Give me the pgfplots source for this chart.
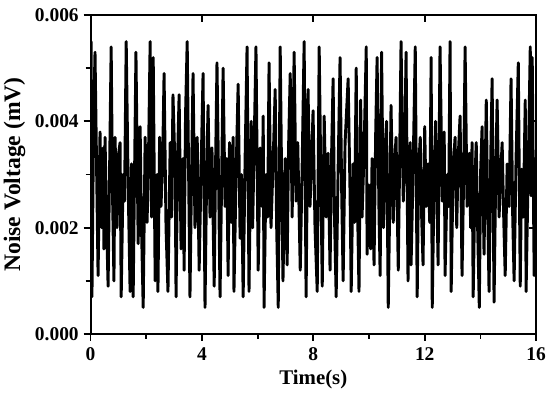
\documentclass[border=0pt]{standalone}
\usepackage{fontspec}
\setmainfont{Liberation Serif}
\usepackage{pgfplots}
\usepackage{pgfplotstable}
\pgfplotsset{compat=1.18}
\pgfplotstableread{
t v
0 0.0030
0.02 0.0055
0.05 0.0007
0.11 0.0040
0.16 0.0053
0.27 0.0011
0.34 0.0038
0.40 0.0020
0.45 0.0035
0.48 0.0016
0.52 0.0037
0.57 0.0022
0.63 0.0009
0.74 0.0054
0.79 0.0026
0.84 0.0010
0.88 0.0037
0.95 0.0020
1.01 0.0034
1.06 0.0036
1.10 0.0007
1.17 0.0030
1.22 0.0025
1.28 0.0055
1.35 0.0028
1.42 0.0008
1.47 0.0032
1.53 0.0007
1.63 0.0053
1.71 0.0017
1.78 0.0039
1.83 0.0020
1.89 0.0005
1.96 0.0037
2.03 0.0021
2.08 0.0033
2.14 0.0055
2.19 0.0022
2.25 0.0052
2.32 0.0010
2.39 0.0030
2.42 0.0008
2.48 0.0037
2.53 0.0024
2.59 0.0033
2.64 0.0049
2.71 0.0020
2.78 0.0008
2.86 0.0036
2.91 0.0022
2.96 0.0045
3.04 0.0030
3.07 0.0007
3.13 0.0034
3.18 0.0045
3.25 0.0016
3.32 0.0033
3.36 0.0012
3.41 0.0041
3.47 0.0055
3.57 0.0007
3.63 0.0031
3.68 0.0049
3.75 0.0020
3.83 0.0037
3.90 0.0012
3.97 0.0031
4.04 0.0049
4.11 0.0005
4.17 0.0030
4.22 0.0043
4.29 0.0022
4.36 0.0035
4.44 0.0009
4.49 0.0032
4.54 0.0051
4.60 0.0028
4.65 0.0007
4.71 0.0030
4.76 0.0050
4.83 0.0024
4.89 0.0033
4.94 0.0011
4.99 0.0036
5.05 0.0021
5.12 0.0037
5.15 0.0008
5.23 0.0031
5.30 0.0047
5.37 0.0018
5.42 0.0030
5.48 0.0007
5.55 0.0033
5.62 0.0054
5.69 0.0008
5.77 0.0040
5.82 0.0020
5.87 0.0034
5.94 0.0054
6.02 0.0012
6.09 0.0035
6.16 0.0024
6.20 0.0041
6.23 0.0005
6.30 0.0030
6.36 0.0022
6.41 0.0051
6.48 0.0020
6.56 0.0033
6.63 0.0046
6.68 0.0021
6.74 0.0005
6.81 0.0054
6.86 0.0030
6.91 0.0010
6.99 0.0033
7.06 0.0013
7.11 0.0035
7.17 0.0049
7.24 0.0022
7.31 0.0053
7.38 0.0025
7.44 0.0036
7.53 0.0012
7.60 0.0032
7.67 0.0055
7.74 0.0007
7.81 0.0046
7.88 0.0024
7.94 0.0033
7.99 0.0042
8.06 0.0020
8.14 0.0008
8.21 0.0054
8.28 0.0025
8.32 0.0009
8.39 0.0041
8.46 0.0022
8.53 0.0034
8.60 0.0012
8.66 0.0035
8.71 0.0048
8.76 0.0022
8.82 0.0007
8.89 0.0031
8.96 0.0052
9.02 0.0026
9.07 0.0010
9.14 0.0036
9.25 0.0048
9.32 0.0026
9.36 0.0008
9.43 0.0032
9.48 0.0021
9.54 0.0050
9.59 0.0023
9.64 0.0008
9.70 0.0044
9.75 0.0022
9.82 0.0034
9.90 0.0054
9.93 0.0015
10.00 0.0028
10.06 0.0016
10.11 0.0033
10.18 0.0013
10.24 0.0038
10.29 0.0052
10.36 0.0022
10.40 0.0011
10.45 0.0053
10.52 0.0020
10.58 0.0035
10.63 0.0040
10.69 0.0005
10.76 0.0030
10.79 0.0043
10.87 0.0021
10.92 0.0032
10.97 0.0037
11.05 0.0012
11.10 0.0033
11.15 0.0055
11.23 0.0025
11.28 0.0034
11.33 0.0053
11.40 0.0010
11.48 0.0036
11.51 0.0013
11.58 0.0030
11.66 0.0054
11.73 0.0007
11.78 0.0031
11.84 0.0037
11.89 0.0022
11.94 0.0013
12.00 0.0039
12.05 0.0024
12.12 0.0032
12.18 0.0021
12.23 0.0052
12.27 0.0005
12.34 0.0030
12.39 0.0040
12.45 0.0022
12.48 0.0013
12.55 0.0054
12.63 0.0025
12.70 0.0038
12.73 0.0011
12.81 0.0030
12.86 0.0024
12.91 0.0055
12.95 0.0008
13.02 0.0031
13.09 0.0037
13.15 0.0020
13.20 0.0033
13.27 0.0041
13.34 0.0011
13.40 0.0030
13.45 0.0054
13.52 0.0024
13.60 0.0034
13.65 0.0020
13.70 0.0036
13.74 0.0007
13.81 0.0030
13.85 0.0036
13.90 0.0020
13.96 0.0005
14.01 0.0031
14.06 0.0039
14.13 0.0015
14.21 0.0044
14.26 0.0024
14.31 0.0008
14.37 0.0033
14.42 0.0048
14.49 0.0006
14.55 0.0030
14.60 0.0044
14.67 0.0022
14.73 0.0030
14.78 0.0036
14.84 0.0021
14.89 0.0011
14.96 0.0032
15.03 0.0024
15.10 0.0048
15.16 0.0022
15.21 0.0010
15.28 0.0033
15.36 0.0051
15.43 0.0009
15.48 0.0031
15.54 0.0022
15.61 0.0044
15.64 0.0008
15.72 0.0032
15.79 0.0054
15.82 0.0026
15.86 0.0052
15.93 0.0011
15.97 0.0033
16.00 0.0030
}\noisedata
\begin{document}
\begin{tikzpicture}
\begin{axis}[
  at={(0,0)}, anchor=south west,
  scale only axis,
  width=320.8pt, height=229.7pt,
  xmin=0, xmax=16, ymin=0, ymax=0.006,
  xtick={0,4,8,12,16},
  minor xtick={2,6,10,14},
  ytick={0,0.002,0.004,0.006},
  minor ytick={0.001,0.003,0.005},
  xtick pos=left, ytick pos=left,
  tick align=outside,
  major tick length=5pt, minor tick length=3.5pt,
  every tick/.style={line width=1.3pt, black},
  axis line style={line width=1.4pt},
  scaled y ticks=false,
  yticklabel style={/pgf/number format/.cd, fixed, fixed zerofill, precision=3},
  /pgf/number format/assume math mode=true,
  ticklabel style={font=\fontsize{14}{16}\selectfont\bfseries},
  xticklabel style={yshift=-1pt},
  xlabel={Time(s)}, ylabel={Noise Voltage (mV)},
  xlabel style={font=\fontsize{15}{17}\selectfont\bfseries, yshift=0pt},
  ylabel style={font=\fontsize{17}{19}\selectfont\bfseries, yshift=0pt},
]
\addplot[black, line width=2.1pt, line join=round] table[x=t, y=v] {\noisedata};
\end{axis}
\begin{axis}[
  at={(0,0)}, anchor=south west,
  scale only axis,
  width=320.8pt, height=229.7pt,
  xmin=0, xmax=16, ymin=0, ymax=0.006,
  xtick={0,4,8,12,16},
  ytick={0,0.002,0.004,0.006},
  xtick pos=right, ytick pos=right,
  tick align=inside,
  major tick length=5pt,
  every tick/.style={line width=1.3pt, black},
  axis line style={line width=1.4pt},
  xticklabels={}, yticklabels={},
  scaled y ticks=false,
]
\end{axis}
\pgfresetboundingbox
\path (-65.2pt,-41.8pt) rectangle (330.8pt,240.5pt);
\end{tikzpicture}
\end{document}
